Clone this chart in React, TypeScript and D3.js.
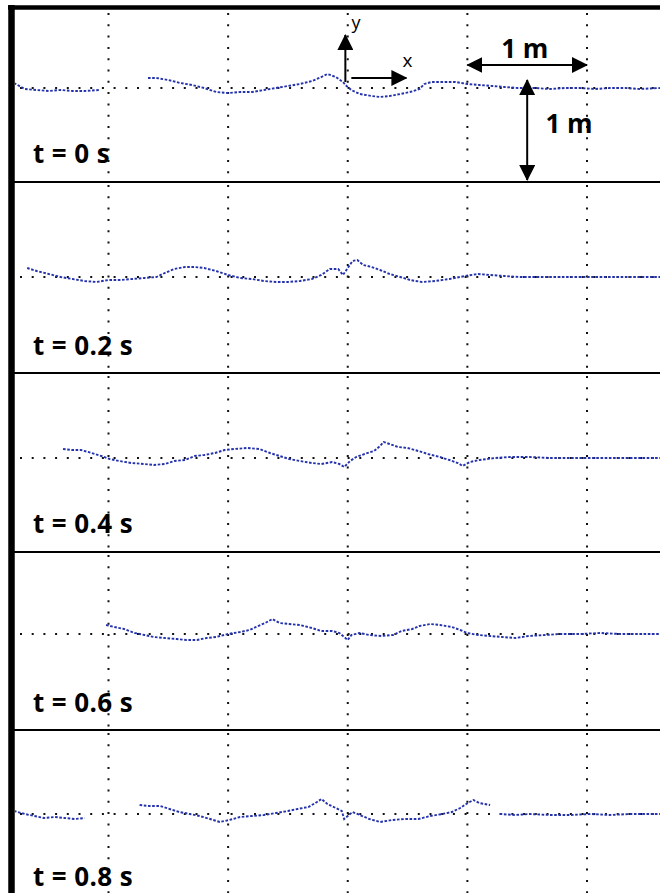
import React from "react";
import * as d3 from "d3";

type Pt = [number, number | null];

const W = 660;
const H = 893;

// Panel labels (time of each snapshot)
const timeLabels = ["t = 0 s", "t = 0.2 s", "t = 0.4 s", "t = 0.6 s", "t = 0.8 s"];

// Vertical grid positions (m)
const gridX = [-2, -1, 0, 1, 2];

// Free-surface profiles: [x (m), elevation (m)], null = no data
const eta00: Pt[] = [
  [-2.79, 0.05], [-2.70, -0.01], [-2.60, -0.02], [-2.50, -0.03], [-2.40, -0.02], [-2.30, -0.03],
  [-2.20, -0.03], [-2.08, -0.02], [-1.90, null], [-1.67, 0.10], [-1.60, 0.10], [-1.50, 0.08],
  [-1.40, 0.05], [-1.30, 0.03], [-1.20, 0.00], [-1.10, -0.04], [-1.00, -0.05], [-0.90, -0.04],
  [-0.80, -0.04], [-0.70, -0.02], [-0.60, 0.00], [-0.50, 0.02], [-0.40, 0.04], [-0.30, 0.07],
  [-0.22, 0.11], [-0.17, 0.14], [-0.10, 0.11], [-0.04, 0.06], [-0.01, 0.02], [0.03, -0.02],
  [0.10, -0.06], [0.20, -0.08], [0.27, -0.09], [0.35, -0.08], [0.44, -0.06], [0.52, -0.04],
  [0.60, -0.01], [0.64, 0.04], [0.70, 0.06], [0.80, 0.06], [0.90, 0.06], [1.00, 0.04],
  [1.10, 0.03], [1.21, 0.02], [1.31, 0.01], [1.42, 0.00], [1.56, 0.00], [1.69, -0.01],
  [1.82, 0.00], [1.94, 0.00], [2.07, -0.01], [2.19, 0.00], [2.32, 0.00], [2.44, -0.01], [2.61, 0.00],
];

const eta02: Pt[] = [
  [-2.68, 0.09], [-2.60, 0.06], [-2.50, 0.03], [-2.40, 0.00], [-2.30, -0.02], [-2.20, -0.04],
  [-2.10, -0.05], [-2.00, -0.03], [-1.90, -0.03], [-1.80, -0.02], [-1.70, -0.01], [-1.60, 0.00],
  [-1.53, 0.04], [-1.45, 0.08], [-1.36, 0.10], [-1.28, 0.10], [-1.20, 0.09], [-1.10, 0.06],
  [-1.00, 0.02], [-0.90, -0.01], [-0.80, -0.02], [-0.70, -0.04], [-0.60, -0.05], [-0.50, -0.05],
  [-0.40, -0.04], [-0.30, -0.02], [-0.22, 0.02], [-0.15, 0.08], [-0.08, 0.08], [-0.04, 0.02],
  [0.00, 0.09], [0.04, 0.16], [0.08, 0.17], [0.13, 0.12], [0.20, 0.10], [0.27, 0.07],
  [0.35, 0.03], [0.44, 0.00], [0.52, -0.03], [0.62, -0.05], [0.73, -0.04], [0.85, -0.02],
  [0.98, 0.01], [1.09, 0.03], [1.19, 0.02], [1.31, 0.01], [1.44, 0.00], [1.61, 0.00],
  [1.77, 0.00], [1.94, 0.00], [2.11, 0.00], [2.28, 0.00], [2.44, 0.00], [2.61, 0.00],
];

const eta04: Pt[] = [
  [-2.38, 0.09], [-2.31, 0.08], [-2.23, 0.08], [-2.14, 0.05], [-2.06, 0.02], [-1.99, -0.01],
  [-1.91, -0.03], [-1.81, -0.05], [-1.70, -0.06], [-1.62, -0.07], [-1.53, -0.06], [-1.45, -0.03],
  [-1.36, -0.02], [-1.28, 0.02], [-1.20, 0.03], [-1.11, 0.05], [-1.03, 0.08], [-0.95, 0.09],
  [-0.84, 0.10], [-0.74, 0.09], [-0.65, 0.05], [-0.57, 0.02], [-0.49, -0.01], [-0.40, -0.03],
  [-0.30, -0.05], [-0.22, -0.06], [-0.13, -0.04], [-0.07, -0.06], [-0.03, -0.09], [0.02, -0.03],
  [0.07, 0.01], [0.14, 0.04], [0.22, 0.07], [0.27, 0.12], [0.30, 0.16], [0.35, 0.14],
  [0.42, 0.11], [0.50, 0.10], [0.59, 0.07], [0.67, 0.04], [0.77, 0.01], [0.85, -0.02],
  [0.92, -0.05], [0.96, -0.08], [1.02, -0.04], [1.10, -0.02], [1.23, 0.00], [1.36, 0.01],
  [1.52, 0.01], [1.69, 0.00], [1.86, 0.00], [2.03, 0.00], [2.19, 0.00], [2.36, 0.00], [2.61, 0.00],
];

const eta06: Pt[] = [
  [-2.02, 0.09], [-1.95, 0.07], [-1.87, 0.05], [-1.78, 0.01], [-1.70, -0.01], [-1.62, -0.03],
  [-1.53, -0.04], [-1.43, -0.05], [-1.35, -0.06], [-1.26, -0.06], [-1.18, -0.04], [-1.10, -0.03],
  [-1.00, 0.00], [-0.90, 0.02], [-0.82, 0.04], [-0.75, 0.08], [-0.69, 0.11], [-0.63, 0.15],
  [-0.57, 0.11], [-0.49, 0.10], [-0.40, 0.09], [-0.30, 0.06], [-0.22, 0.03], [-0.13, 0.03],
  [-0.07, 0.01], [-0.03, -0.03], [0.00, -0.06], [0.03, -0.01], [0.10, 0.01], [0.18, -0.01],
  [0.28, -0.02], [0.38, -0.01], [0.45, 0.03], [0.54, 0.05], [0.60, 0.08], [0.69, 0.10],
  [0.77, 0.09], [0.87, 0.07], [0.94, 0.04], [1.00, 0.01], [1.09, -0.01], [1.19, -0.02],
  [1.29, -0.03], [1.40, -0.04], [1.51, -0.02], [1.65, -0.01], [1.77, 0.00], [1.94, 0.00],
  [2.11, 0.01], [2.28, 0.00], [2.44, 0.00], [2.61, 0.00],
];

const eta08: Pt[] = [
  [-2.79, 0.03], [-2.70, 0.00], [-2.62, -0.02], [-2.54, -0.04], [-2.45, -0.03], [-2.37, -0.04],
  [-2.28, -0.05], [-2.20, -0.04], [-2.00, null], [-1.74, 0.09], [-1.66, 0.08], [-1.57, 0.08],
  [-1.49, 0.05], [-1.41, 0.02], [-1.32, 0.00], [-1.24, -0.02], [-1.15, -0.05], [-1.07, -0.08],
  [-0.99, -0.06], [-0.90, -0.03], [-0.80, -0.02], [-0.70, -0.01], [-0.60, 0.01], [-0.50, 0.03],
  [-0.42, 0.05], [-0.33, 0.07], [-0.27, 0.11], [-0.22, 0.15], [-0.17, 0.10], [-0.10, 0.06],
  [-0.05, 0.03], [-0.03, -0.05], [0.00, -0.02], [0.04, 0.02], [0.10, -0.01], [0.18, -0.05],
  [0.27, -0.08], [0.37, -0.06], [0.48, -0.05], [0.59, -0.05], [0.69, -0.02], [0.79, 0.00],
  [0.87, 0.02], [0.94, 0.06], [0.99, 0.10], [1.05, 0.14], [1.10, 0.11], [1.19, 0.09],
  [1.23, null], [1.27, 0.00], [1.40, -0.01], [1.52, 0.00], [1.69, -0.01], [1.86, -0.01],
  [2.03, 0.00], [2.19, -0.01], [2.36, 0.00], [2.61, 0.00],
];

const profiles = [eta00, eta02, eta04, eta06, eta08];

// Panel layout (pixels)
const panels = [
  { top: 10, bottom: 182, base: 88, label: 163 },
  { top: 182, bottom: 373, base: 277, label: 355 },
  { top: 373, bottom: 552, base: 458, label: 533 },
  { top: 552, bottom: 730, base: 634, label: 712 },
  { top: 730, bottom: 893, base: 814, label: 886 },
];

const BLUE = "#2432ac";
const DOT = "#111";

export default function App() {
  const x = d3.scaleLinear().domain([-2, 2]).range([108.5, 587]);
  const yOf = (base: number) => d3.scaleLinear().domain([-1, 1]).range([base + 100, base - 100]);
  const y1 = yOf(panels[0].base);

  return (
    <svg
      width={W}
      height={H}
      style={{ position: "absolute", left: 0, top: 0, display: "block" }}
      fontFamily="'Open Sans', 'DejaVu Sans', sans-serif"
    >
      <defs>
        <marker id="ah" viewBox="0 0 16 16" refX={15} refY={8} markerWidth={16} markerHeight={16}
          markerUnits="userSpaceOnUse" orient="auto-start-reverse">
          <path d="M0,0 L16,8 L0,16 Z" fill="#000" />
        </marker>
        <clipPath id="plotclip">
          <rect x={15} y={0} width={W} height={H} />
        </clipPath>
      </defs>
      <rect width={W} height={H} fill="#fff" />

      {panels.map((p, i) => {
        const y = yOf(p.base);
        const line = d3
          .line<Pt>()
          .defined((d) => d[1] !== null)
          .x((d) => x(d[0]))
          .y((d) => y(d[1] as number));
        return (
          <g key={i}>
            {gridX.map((g) => (
              <line key={g} x1={x(g)} x2={x(g)} y1={p.top + 3} y2={p.bottom}
                stroke={DOT} strokeWidth={2} strokeDasharray="2 9.3" />
            ))}
            <line x1={20} x2={W} y1={y(0)} y2={y(0)} stroke={DOT} strokeWidth={2} strokeDasharray="2 9.7" />
            <path d={line(profiles[i]) || ""} fill="none" stroke={BLUE} strokeWidth={1.9}
              strokeDasharray="2.6 1.6" clipPath="url(#plotclip)" />
            <text x={33} y={p.label} fontSize={26} fontWeight="bold" letterSpacing={0.4} fill="#000">
              {timeLabels[i]}
            </text>
          </g>
        );
      })}

      {/* panel separators */}
      {panels.slice(1).map((p, i) => (
        <line key={i} x1={12} x2={W} y1={p.top} y2={p.top} stroke="#000" strokeWidth={2} />
      ))}

      {/* outer frame */}
      <line x1={8} x2={W} y1={7.5} y2={7.5} stroke="#000" strokeWidth={4.5} />
      <line x1={11.5} x2={11.5} y1={5} y2={H} stroke="#000" strokeWidth={6.5} />

      {/* axes annotation in panel 1 */}
      <line x1={x(-0.02)} x2={x(-0.02)} y1={y1(0.06)} y2={y1(0.53)} stroke="#000" strokeWidth={2} markerEnd="url(#ah)" />
      <line x1={x(0.03)} x2={x(0.49)} y1={y1(0.1)} y2={y1(0.1)} stroke="#000" strokeWidth={2} markerEnd="url(#ah)" />
      <text x={x(0.07)} y={29} fontSize={18} textAnchor="middle" fill="#000">y</text>
      <text x={x(0.5)} y={67} fontSize={19} textAnchor="middle" fill="#000">x</text>

      {/* scale bars */}
      <line x1={x(1)} x2={x(2)} y1={y1(0.23)} y2={y1(0.23)} stroke="#000" strokeWidth={2}
        markerStart="url(#ah)" markerEnd="url(#ah)" />
      <text x={x(1.48)} y={58} fontSize={26} fontWeight="bold" textAnchor="middle" fill="#000">1 m</text>
      <line x1={x(1.5)} x2={x(1.5)} y1={y1(0.08)} y2={y1(-0.92)} stroke="#000" strokeWidth={2}
        markerStart="url(#ah)" markerEnd="url(#ah)" />
      <text x={x(1.85)} y={133} fontSize={26} fontWeight="bold" textAnchor="middle" fill="#000">1 m</text>
    </svg>
  );
}
